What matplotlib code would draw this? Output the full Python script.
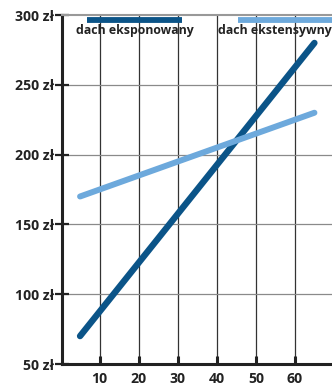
import matplotlib.pyplot as plt

plt.rcParams['font.family'] = ['Open Sans', 'DejaVu Sans']

# powierzchnia dachu vs koszt
x_exp = [5, 65]
y_exp = [70, 280]
x_ext = [5, 65]
y_ext = [170, 230]

x_ticks = [10, 20, 30, 40, 50, 60]
y_ticks = [50, 100, 150, 200, 250, 300]
y_labels = ['%d zł' % v for v in y_ticks]

dark = '#0b5488'
light = '#6da9dc'
txt = '#222222'

fig = plt.figure(figsize=(3.32, 3.87), dpi=100)
ax = fig.add_axes([0.187, 0.0594, 0.813, 0.9018])

ax.set_xlim(0.4, 69.5)
ax.set_ylim(50, 300)

for v in x_ticks:
    ax.axvline(v, color='#333333', lw=0.9, zorder=1)
for v in y_ticks[1:-1]:
    ax.axhline(v, color='#8a8a8a', lw=0.9, zorder=1)

ax.plot(x_exp, y_exp, color=dark, lw=4.6, solid_capstyle='round', zorder=3)
ax.plot(x_ext, y_ext, color=light, lw=4.3, solid_capstyle='round', zorder=3)

ax.set_xticks(x_ticks)
ax.set_xticklabels([str(v) for v in x_ticks])
ax.set_yticks(y_ticks)
ax.set_yticklabels(y_labels)
ax.tick_params(axis='x', direction='in', length=6, width=2.2, color='#222222',
               labelsize=10.2, labelcolor=txt, pad=6)
ax.tick_params(axis='y', direction='inout', length=10, width=1.6, color='#222222',
               labelsize=10.2, labelcolor=txt, pad=1)
for lab in ax.get_xticklabels() + ax.get_yticklabels():
    lab.set_fontweight('bold')

ax.spines['left'].set_linewidth(2.2)
ax.spines['left'].set_color('#222222')
ax.spines['bottom'].set_linewidth(2.2)
ax.spines['bottom'].set_color('#222222')
ax.spines['top'].set_linewidth(1.5)
ax.spines['top'].set_color('#999999')
ax.spines['right'].set_visible(False)

# legenda u góry
tr = ax.get_xaxis_transform()
ax.plot([6.7, 31.0], [0.987, 0.987], color=dark, lw=4.2, transform=tr,
        solid_capstyle='butt', zorder=4, clip_on=False)
ax.plot([45.4, 69.5], [0.987, 0.987], color=light, lw=4.2, transform=tr,
        solid_capstyle='butt', zorder=4, clip_on=False)
ax.text(19.1, 0.955, 'dach eksponowany', transform=tr, ha='center', va='center',
        fontsize=8.9, fontweight='bold', color=txt, zorder=5)
ax.text(40.3, 0.955, 'dach ekstensywny', transform=tr, ha='left', va='center',
        fontsize=8.9, fontweight='bold', color=txt, zorder=5)

fig.savefig('out.png', dpi=100)
